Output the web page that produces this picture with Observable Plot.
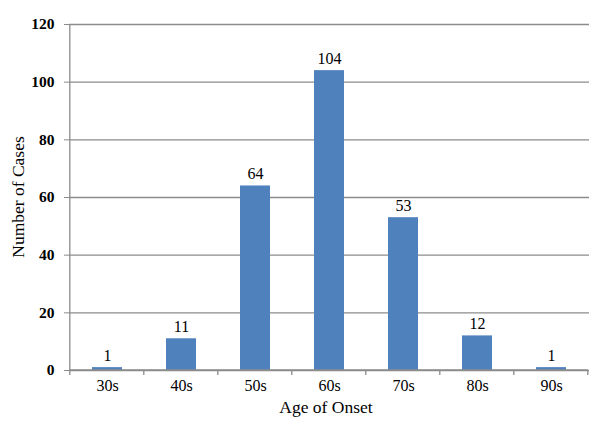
<!DOCTYPE html>
<html>
<head>
<meta charset="utf-8">
<script src="https://cdn.jsdelivr.net/npm/d3@7"></script>
<script src="https://cdn.jsdelivr.net/npm/@observablehq/plot@0.6"></script>
<style>
  html, body { margin: 0; padding: 0; background: #fff; }
  #chart svg { display: block; font-family: "Liberation Serif", "Times New Roman", serif; }
</style>
</head>
<body>
<div id="chart"></div>
<script>
const categories = ["30s", "40s", "50s", "60s", "70s", "80s", "90s"];
const cases = [1, 11, 64, 104, 53, 12, 1];
const yTicks = [0, 20, 40, 60, 80, 100, 120];

const data = categories.map((c, i) => ({ age: c, n: cases[i] }));
const gridColor = "#8c8c8c";

const plot = Plot.plot({
  width: 600,
  height: 423,
  marginLeft: 69,
  marginRight: 11,
  marginTop: 24,
  marginBottom: 53,
  style: { fontFamily: "'Liberation Serif', 'Times New Roman', serif", fontSize: "16px", color: "#000", background: "#fff" },
  x: { domain: categories, paddingInner: 0.6, paddingOuter: 0.3, label: null },
  y: { domain: [0, 120], label: null },
  marks: [
    Plot.ruleY(yTicks, { y: d => d, stroke: gridColor, strokeWidth: 1.3 }),
    Plot.barY(data, { x: "age", y: "n", fill: "#4F81BD" }),
    Plot.text(data, { x: "age", y: "n", text: d => String(d.n), lineAnchor: "bottom", dy: -7, fontSize: 16, fill: "#000" }),
    Plot.axisY(yTicks, { tickSize: 5, tickPadding: 10, stroke: gridColor, fontWeight: "bold", fontSize: 15.5, fill: "#000" }),
    Plot.axisX({ tickSize: 0, tickPadding: 9, fontSize: 16, fill: "#000" })
  ]
});

// axis line and category boundary ticks, positioned from the library's x scale
const xs = plot.scale("x");
const ys = plot.scale("y");
const svg = d3.select(plot);
const step = xs.step;
const bounds = categories.map(c => xs.apply(c) - xs.paddingOuter * step);
bounds.push(bounds[bounds.length - 1] + step);
const y0 = ys.apply(0);
const yTop = ys.apply(120);
const g = svg.append("g").attr("stroke", gridColor).attr("stroke-width", 1.3);
g.selectAll("line.t").data(bounds).join("line")
  .attr("x1", d => d).attr("x2", d => d).attr("y1", y0).attr("y2", y0 + 5);
g.append("line").attr("x1", bounds[0]).attr("x2", bounds[0]).attr("y1", yTop).attr("y2", y0);
g.append("line").attr("x1", bounds[0]).attr("x2", bounds[bounds.length - 1]).attr("y1", y0).attr("y2", y0);

// axis titles
svg.append("text")
  .attr("x", 326)
  .attr("y", 413)
  .attr("text-anchor", "middle")
  .attr("font-size", 17.5)
  .attr("fill", "#000")
  .text("Age of Onset");
svg.append("text")
  .attr("transform", `translate(24, ${(y0 + yTop) / 2}) rotate(-90)`)
  .attr("text-anchor", "middle")
  .attr("font-size", 17.5)
  .attr("fill", "#000")
  .text("Number of Cases");

document.getElementById("chart").appendChild(plot);
</script>
</body>
</html>
